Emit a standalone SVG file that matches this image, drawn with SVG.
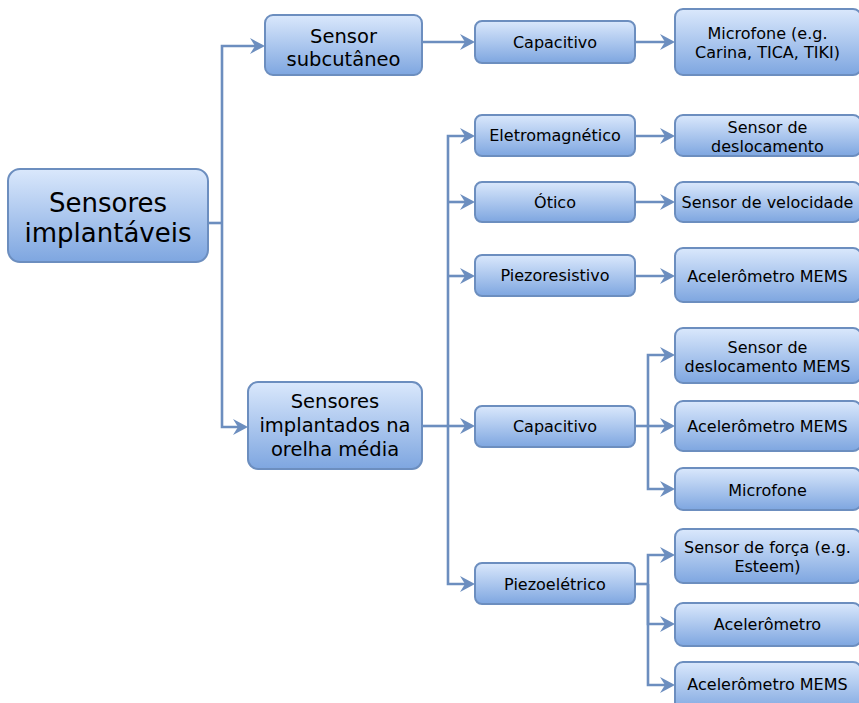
<svg xmlns="http://www.w3.org/2000/svg" width="859" height="703" viewBox="0 0 859 703">
<style>
.box{stroke:#6c8ebf;stroke-width:2;fill:url(#g)}
.t{font-family:"DejaVu Sans",Verdana,sans-serif;fill:#000;text-anchor:middle}
.s16{font-size:16px}
.s19{font-size:19.5px}
.s26{font-size:26px}
.c{fill:none;stroke:#6c8ebf;stroke-width:2.6;marker-end:url(#a)}
.l{fill:none;stroke:#6c8ebf;stroke-width:2.6}
</style>
<defs>
<linearGradient id="g" x1="0" y1="0" x2="0" y2="1">
<stop offset="0" stop-color="#dae8fc"/>
<stop offset="1" stop-color="#7ea6e0"/>
</linearGradient>
<marker id="a" markerUnits="userSpaceOnUse" viewBox="0 0 15 16" refX="11" refY="8" markerWidth="15" markerHeight="16" orient="auto">
<path d="M0,0 L15,8 L0,16 L5,8 Z" fill="#6c8ebf"/>
</marker>
</defs>
<g id="connectors">
<path class="l" d="M208,223 H222"/>
<path class="c" d="M222,223 V46 H261"/>
<path class="c" d="M222,223 V427 H244"/>
<path class="c" d="M422,42 H471"/>
<path class="c" d="M635,42 H671"/>
<path class="l" d="M422,426 H448"/>
<path class="c" d="M448,426 V136 H471"/>
<path class="c" d="M448,202 H471"/>
<path class="c" d="M448,276 H471"/>
<path class="c" d="M448,426 H471"/>
<path class="c" d="M448,426 V584 H471"/>
<path class="c" d="M635,136 H671"/>
<path class="c" d="M635,202 H671"/>
<path class="c" d="M635,276 H671"/>
<path class="l" d="M635,426 H648"/>
<path class="c" d="M648,426 V355 H671"/>
<path class="c" d="M648,426 H671"/>
<path class="c" d="M648,426 V489 H671"/>
<path class="l" d="M635,584 H648"/>
<path class="c" d="M648,584 V555 H671"/>
<path class="c" d="M648,584 V624 H671"/>
<path class="c" d="M648,584 V685 H671"/>
</g>
<g id="root">
<rect class="box" x="8" y="169" width="200" height="93" rx="12"/>
<text class="t s26" x="108" y="212">Sensores</text>
<text class="t s26" x="108" y="242">implantáveis</text>
</g>
<g id="subcutaneo">
<rect class="box" x="265" y="15" width="157" height="60" rx="8"/>
<text class="t s19" x="343.5" y="43">Sensor</text>
<text class="t s19" x="343.5" y="66">subcutâneo</text>
</g>
<g id="orelha">
<rect class="box" x="248" y="382" width="174" height="87" rx="10"/>
<text class="t s19" x="335" y="408">Sensores</text>
<text class="t s19" x="335" y="432">implantados na</text>
<text class="t s19" x="335" y="456">orelha média</text>
</g>
<g id="cap1">
<rect class="box" x="475" y="21" width="160" height="42" rx="7"/>
<text class="t s16" x="555" y="48">Capacitivo</text>
</g>
<g id="eletro">
<rect class="box" x="475" y="115" width="160" height="41" rx="7"/>
<text class="t s16" x="555" y="141">Eletromagnético</text>
</g>
<g id="otico">
<rect class="box" x="475" y="182" width="160" height="40" rx="7"/>
<text class="t s16" x="555" y="208">Ótico</text>
</g>
<g id="piezores">
<rect class="box" x="475" y="255" width="160" height="41" rx="7"/>
<text class="t s16" x="555" y="281">Piezoresistivo</text>
</g>
<g id="cap2">
<rect class="box" x="475" y="406" width="160" height="41" rx="7"/>
<text class="t s16" x="555" y="432">Capacitivo</text>
</g>
<g id="piezoel">
<rect class="box" x="475" y="563" width="160" height="41" rx="7"/>
<text class="t s16" x="555" y="590">Piezoelétrico</text>
</g>
<g id="microfone1">
<rect class="box" x="675" y="9" width="186" height="66" rx="8"/>
<text class="t s16" x="767.5" y="39">Microfone (e.g.</text>
<text class="t s16" x="767.5" y="58">Carina, TICA, TIKI)</text>
</g>
<g id="deslocamento">
<rect class="box" x="675" y="115" width="186" height="41" rx="8"/>
<text class="t s16" x="767.5" y="133">Sensor de</text>
<text class="t s16" x="767.5" y="152">deslocamento</text>
</g>
<g id="velocidade">
<rect class="box" x="675" y="182" width="186" height="40" rx="8"/>
<text class="t s16" x="767.5" y="208">Sensor de velocidade</text>
</g>
<g id="acel1">
<rect class="box" x="675" y="248" width="186" height="54" rx="8"/>
<text class="t s16" x="767.5" y="282">Acelerômetro MEMS</text>
</g>
<g id="deslmems">
<rect class="box" x="675" y="328" width="186" height="55" rx="8"/>
<text class="t s16" x="767.5" y="353">Sensor de</text>
<text class="t s16" x="767.5" y="372">deslocamento MEMS</text>
</g>
<g id="acel2">
<rect class="box" x="675" y="401" width="186" height="50" rx="8"/>
<text class="t s16" x="767.5" y="432">Acelerômetro MEMS</text>
</g>
<g id="microfone2">
<rect class="box" x="675" y="468" width="186" height="42" rx="8"/>
<text class="t s16" x="767.5" y="496">Microfone</text>
</g>
<g id="forca">
<rect class="box" x="675" y="529" width="186" height="54" rx="8"/>
<text class="t s16" x="767.5" y="553">Sensor de força (e.g.</text>
<text class="t s16" x="767.5" y="572">Esteem)</text>
</g>
<g id="acel3">
<rect class="box" x="675" y="603" width="186" height="43" rx="8"/>
<text class="t s16" x="767.5" y="630">Acelerômetro</text>
</g>
<g id="acel4">
<rect class="box" x="675" y="662" width="186" height="50" rx="8"/>
<text class="t s16" x="767.5" y="690">Acelerômetro MEMS</text>
</g>
</svg>
